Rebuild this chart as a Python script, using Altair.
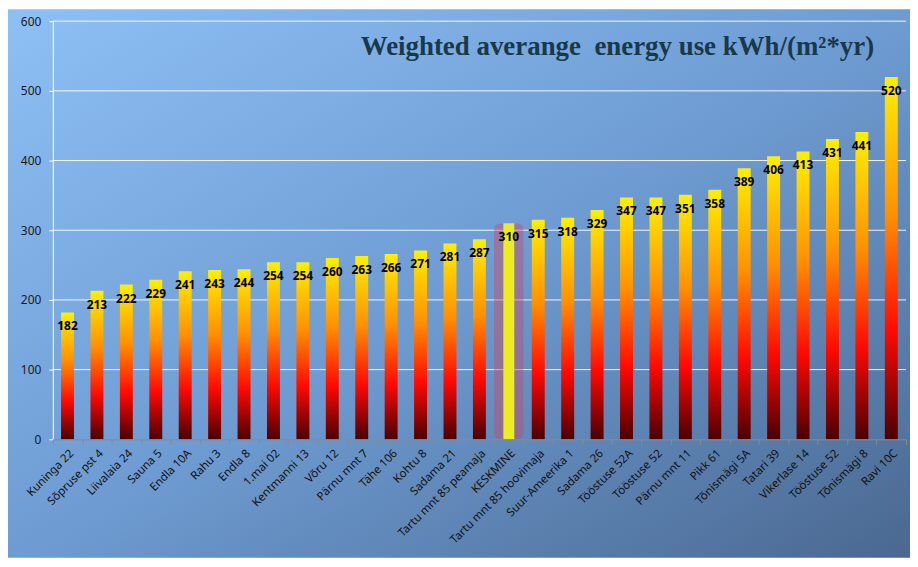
import json
import altair as alt
import pandas as pd

names = ["Kuninga 22", "Sõpruse pst 4", "Liivalaia 24", "Sauna 5", "Endla 10A", "Rahu 3",
         "Endla 8", "1.mai 02", "Kentmanni 13", "Võru 12", "Pärnu mnt 7", "Tähe 106",
         "Kohtu 8", "Sadama 21", "Tartu mnt 85 peamaja", "KESKMINE",
         "Tartu mnt 85 hoovimaja", "Suur-Ameerika 1", "Sadama 26", "Tööstuse 52A",
         "Tööstuse 52", "Pärnu mnt 11", "Pikk 61", "Tõnismägi 5A", "Tatari 39",
         "Vikerlase 14", "Tööstuse 52", "Tõnismägi 8", "Ravi 10C"]
values = [182, 213, 222, 229, 241, 243, 244, 254, 254, 260, 263, 266, 271, 281, 287,
          310, 315, 318, 329, 347, 347, 351, 358, 389, 406, 413, 431, 441, 520]
y_ticks = [0, 100, 200, 300, 400, 500, 600]
title_text = "Weighted averange\u00a0 energy use kWh/(m²*yr)"
avg_name = "KESKMINE"

df = pd.DataFrame({"idx": list(range(len(names))), "name": names, "value": values})
df["avg"] = df["name"] == avg_name
grid_df = pd.DataFrame({"g": y_ticks[1:]})

W, H = 857, 420

label_expr = json.dumps(names, ensure_ascii=False) + "[datum.value]"

x_enc = alt.X("idx:O", title=None, sort=None,
              scale=alt.Scale(domain=list(range(len(names))), paddingInner=0, paddingOuter=0),
              axis=alt.Axis(labelExpr=label_expr, labelAngle=-45, labelFont="Noto Sans",
                            labelFontSize=11.5, labelColor="#111111", domainColor="#8a8a8a",
                            tickColor="#8a8a8a", tickSize=5, tickBand="extent",
                            labelPadding=3, grid=False, zindex=2))
y_axis = alt.Axis(values=y_ticks, labelFont="Noto Sans", labelFontSize=12,
                  labelColor="#1a1a1a", domainColor="white", tickColor="white",
                  tickSize=4, grid=False, labelPadding=8, zindex=1)
y_scale = alt.Scale(domain=[0, 600], nice=False)
y_enc = alt.Y("value:Q", title=None, scale=y_scale, axis=y_axis)

base = alt.Chart(df)

bg = alt.Chart(pd.DataFrame({"a": [0]})).mark_rect(
    fill={"gradient": "linear", "x1": 0, "y1": 0, "x2": 1, "y2": 1,
          "stops": [{"offset": 0, "color": "#8ec0f5"},
                    {"offset": 0.5, "color": "#6e9cd2"},
                    {"offset": 1, "color": "#4a6890"}]}
).encode(x=alt.value(-45), x2=alt.value(W + 4), y=alt.value(-12), y2=alt.value(H + 119))

grid = alt.Chart(grid_df).mark_rule(color="white", strokeWidth=1, opacity=0.9).encode(
    y=alt.Y("g:Q", title=None, scale=y_scale, axis=y_axis),
    x=alt.value(0), x2=alt.value(W))

bars = base.transform_filter("!datum.avg").mark_bar(
    size=13,
    color={"gradient": "linear", "x1": 0, "y1": 1, "x2": 0, "y2": 0,
           "stops": [{"offset": 0, "color": "#4a0000"},
                     {"offset": 0.3, "color": "#ff0a00"},
                     {"offset": 0.62, "color": "#ff9000"},
                     {"offset": 1, "color": "#fff000"}]}
).encode(x=x_enc, y=y_enc)

glow = base.transform_filter("datum.avg").mark_bar(
    size=30, color="#d04060", opacity=0.4, cornerRadius=7
).encode(x=x_enc, y=y_enc, y2=alt.value(H + 3))

avg_bar = base.transform_filter("datum.avg").mark_bar(
    size=11, color="#ecec20"
).encode(x=x_enc, y=y_enc)

labels = base.mark_text(
    font="Noto Sans", fontSize=12, fontWeight="bold", color="#000000",
    baseline="middle", dy=14
).encode(x=x_enc, y=y_enc, text=alt.Text("value:Q"))

title = alt.Chart(pd.DataFrame({"t": [title_text]})).mark_text(
    font="Liberation Serif", fontSize=27, fontWeight="bold", color="#17394a",
    align="right", baseline="alphabetic"
).encode(x=alt.value(825), y=alt.value(34), text="t:N")

chart = alt.layer(bg, grid, bars, glow, avg_bar, labels, title).properties(
    width=W, height=H,
    autosize=alt.AutoSizeParams(type="none"),
    padding={"left": 45, "top": 12, "right": 4, "bottom": 120},
    background="white",
).configure_view(stroke=None)

chart.save("out.html", embed_options={"renderer": "svg", "actions": False})
